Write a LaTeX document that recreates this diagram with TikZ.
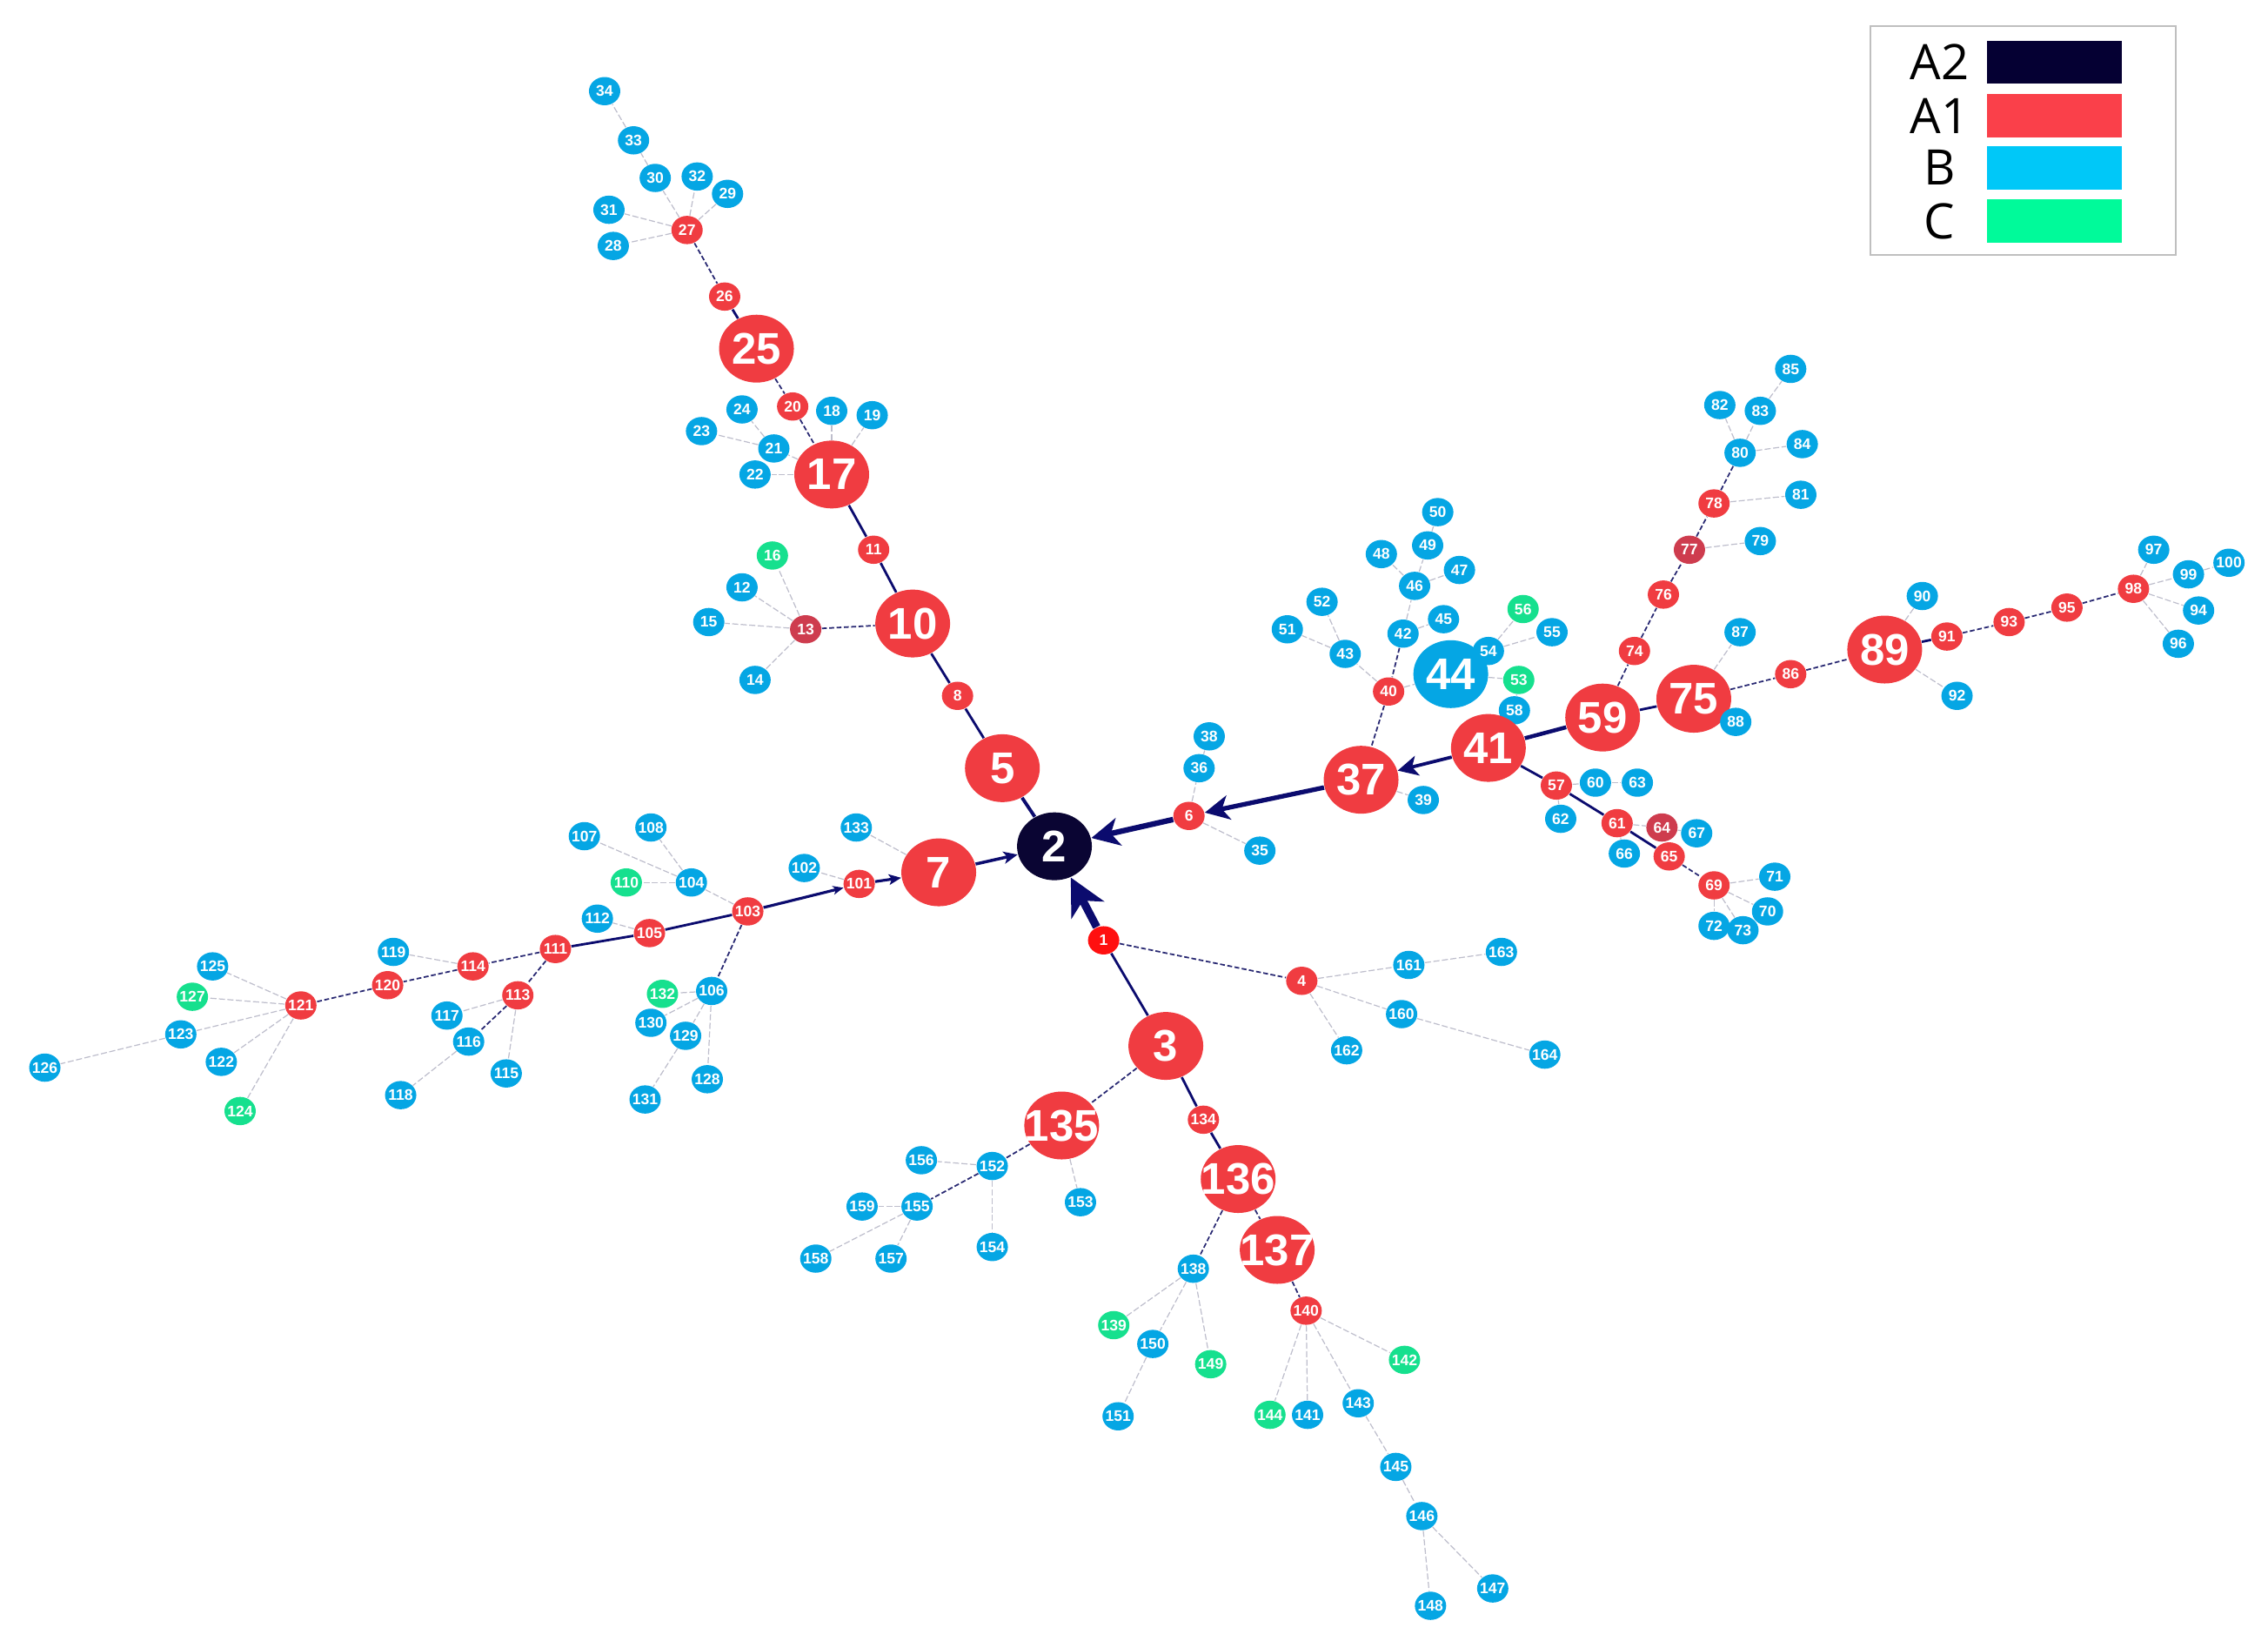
\documentclass[tikz,border=0pt]{standalone}
\usepackage{fontspec}
\setmainfont{Liberation Sans}
\newfontfamily\legfont{Open Sans}
\usetikzlibrary{shapes.geometric,arrows.meta}
\pgfdeclarelayer{bg}
\pgfsetlayers{bg,main}
\definecolor{cA2}{HTML}{0A0533}
\definecolor{cA1}{HTML}{F03C41}
\definecolor{cA1d}{HTML}{CE3C4E}
\definecolor{cA1b}{HTML}{FF1010}
\definecolor{cB}{HTML}{05A6E4}
\definecolor{cC}{HTML}{16E08E}
\definecolor{lA2}{HTML}{050033}
\definecolor{lA1}{HTML}{FA404A}
\definecolor{lB}{HTML}{00C8F8}
\definecolor{lC}{HTML}{00FA9A}
\definecolor{nav}{HTML}{0B0B6E}
\definecolor{edg}{HTML}{BEBECC}
\tikzset{
 base/.style={ellipse, inner sep=0pt, text=white},
 sm/.style={base, minimum width=3.6mm, minimum height=3.25mm, font=\fontsize{5}{5}\selectfont\bfseries},
 bg/.style={base, minimum width=8.6mm, minimum height=7.8mm, font=\fontsize{14.5}{14.5}\selectfont\bfseries},
 sr/.style={sm, fill=cA1},
 srd/.style={sm, fill=cA1d},
 srb/.style={sm, fill=cA1b},
 sb/.style={sm, fill=cB},
 sg/.style={sm, fill=cC},
 br/.style={bg, fill=cA1},
 bb/.style={bg, fill=cB},
 bn/.style={bg, fill=cA2},
 lt/.style={draw=edg, line width=0.35pt, dash pattern=on 2pt off 0.8pt},
 dk/.style={draw=nav!75!gray, line width=0.5pt, dash pattern=on 1.6pt off 0.8pt},
 thk/.style={draw=nav, line width=0.8pt},
 arr/.style={draw=nav},
}
\newcommand\nd[4]{\node[#1] (n#2) at (#3,#4) {\makebox[0pt]{#2}};}
\begin{document}
\begin{tikzpicture}[x=0.016626cm, y=-0.016626cm]
\useasboundingbox (0,0) rectangle (1568,1134);
% legend
\node[draw=black!25, line width=0.6pt, minimum width=35.1mm, minimum height=26.3mm, inner sep=0pt] (leg) at (1398.5,97) {};
\foreach \t/\c/\y in {A2/lA2/43, A1/lA1/80, B/lB/116, C/lC/153}{
  \node[fill=\c, minimum width=15.5mm, minimum height=5.0mm, inner sep=0pt] (sw\t) at (1420.5,\y) {};
  \node[font=\legfont\fontsize{16}{16}\selectfont, inner sep=0pt] (lb\t) at (1341,\y) {\t};
}
% top-left branch
\nd{sb}{34}{418}{63}
\nd{sb}{33}{438}{97}
\nd{sb}{30}{453}{123}
\nd{sb}{32}{482}{122}
\nd{sb}{29}{503}{134}
\nd{sb}{31}{421}{145}
\nd{sr}{27}{475}{159}
\nd{sb}{28}{424}{170}
\nd{sr}{26}{501}{205}
\nd{br}{25}{523}{241}
\nd{sr}{20}{548}{281}
\nd{sb}{24}{513}{283}
\nd{sb}{18}{575}{284}
\nd{sb}{19}{603}{287}
\nd{sb}{23}{485}{298}
\nd{sb}{21}{535}{310}
\nd{sb}{22}{522}{328}
\nd{br}{17}{575}{328}
\nd{sr}{11}{604}{380}
\nd{sg}{16}{534}{384}
\nd{sb}{12}{513}{406}
\nd{sb}{15}{490}{430}
\nd{srd}{13}{557}{435}
\nd{br}{10}{631}{431}
\nd{sb}{14}{522}{470}
\nd{sr}{8}{662}{481}
\nd{br}{5}{693}{531}
\nd{bn}{2}{729}{585}
\nd{br}{7}{649}{603}
% left branch
\nd{sb}{133}{592}{572}
\nd{sb}{102}{556}{600}
\nd{sr}{101}{594}{611}
\nd{sr}{103}{517}{630}
\nd{sb}{104}{478}{610}
\nd{sb}{108}{450}{572}
\nd{sb}{107}{404}{578}
\nd{sg}{110}{433}{610}
\nd{sb}{112}{413}{635}
\nd{sr}{105}{449}{645}
\nd{sr}{111}{384}{656}
\nd{sb}{119}{272}{658}
\nd{sr}{114}{327}{668}
\nd{sr}{120}{268}{681}
\nd{sr}{121}{208}{695}
\nd{sb}{125}{147}{668}
\nd{sg}{127}{133}{689}
\nd{sb}{123}{125}{715}
\nd{sb}{126}{31}{738}
\nd{sb}{122}{153}{734}
\nd{sg}{124}{166}{768}
\nd{sr}{113}{358}{688}
\nd{sb}{117}{309}{702}
\nd{sb}{116}{324}{720}
\nd{sb}{115}{350}{742}
\nd{sb}{118}{277}{757}
\nd{sb}{106}{492}{685}
\nd{sg}{132}{458}{687}
\nd{sb}{130}{450}{707}
\nd{sb}{129}{474}{716}
\nd{sb}{128}{489}{746}
\nd{sb}{131}{446}{760}
% right branch
\nd{sr}{6}{822}{564}
\nd{sb}{38}{836}{509}
\nd{sb}{36}{829}{531}
\nd{sb}{35}{871}{588}
\nd{br}{37}{941}{539}
\nd{sb}{39}{984}{553}
\nd{sr}{40}{960}{478}
\nd{sb}{43}{930}{452}
\nd{sb}{51}{890}{435}
\nd{sb}{52}{914}{416}
\nd{sb}{42}{970}{438}
\nd{sb}{46}{978}{405}
\nd{sb}{48}{955}{383}
\nd{sb}{49}{987}{377}
\nd{sb}{50}{994}{354}
\nd{sb}{47}{1009}{394}
\nd{sb}{45}{998}{428}
\nd{bb}{44}{1003}{466}
\nd{sb}{54}{1029}{450}
\nd{sg}{56}{1053}{421}
\nd{sb}{55}{1073}{437}
\nd{sg}{53}{1050}{470}
\nd{sb}{58}{1047}{491}
\nd{br}{41}{1029}{517}
\nd{sr}{57}{1076}{543}
\nd{sb}{60}{1103}{541}
\nd{sb}{63}{1132}{541}
\nd{sb}{62}{1079}{566}
\nd{sr}{61}{1118}{569}
\nd{srd}{64}{1149}{572}
\nd{sb}{67}{1173}{576}
\nd{sb}{66}{1123}{590}
\nd{sr}{65}{1154}{592}
\nd{sr}{69}{1185}{612}
\nd{sb}{71}{1227}{606}
\nd{sb}{70}{1222}{630}
\nd{sb}{72}{1185}{640}
\nd{sb}{73}{1205}{643}
\nd{br}{59}{1108}{496}
\nd{sr}{74}{1130}{450}
\nd{sr}{76}{1150}{411}
\nd{srd}{77}{1168}{380}
\nd{sb}{79}{1217}{374}
\nd{sr}{78}{1185}{348}
\nd{sb}{81}{1245}{342}
\nd{sb}{80}{1203}{313}
\nd{sb}{84}{1246}{307}
\nd{sb}{82}{1189}{280}
\nd{sb}{83}{1217}{284}
\nd{sb}{85}{1238}{255}
\nd{br}{75}{1171}{483}
\nd{sb}{87}{1203}{437}
\nd{sb}{88}{1200}{499}
\nd{sr}{86}{1238}{466}
\nd{br}{89}{1303}{449}
\nd{sb}{90}{1329}{412}
\nd{sb}{92}{1353}{481}
\nd{sr}{91}{1346}{440}
\nd{sr}{93}{1389}{430}
\nd{sr}{95}{1429}{420}
\nd{sr}{98}{1475}{407}
\nd{sb}{97}{1489}{380}
\nd{sb}{99}{1513}{397}
\nd{sb}{100}{1541}{389}
\nd{sb}{94}{1520}{422}
\nd{sb}{96}{1506}{445}
% bottom branch
\nd{srb}{1}{763}{650}
\nd{sr}{4}{900}{678}
\nd{sb}{161}{974}{667}
\nd{sb}{163}{1038}{658}
\nd{sb}{160}{969}{701}
\nd{sb}{164}{1068}{729}
\nd{sb}{162}{931}{726}
\nd{br}{3}{806}{723}
\nd{br}{135}{734}{778}
\nd{sr}{134}{832}{774}
\nd{br}{136}{856}{815}
\nd{br}{137}{883}{864}
\nd{sb}{152}{686}{806}
\nd{sb}{156}{637}{802}
\nd{sb}{153}{747}{831}
\nd{sb}{155}{634}{834}
\nd{sb}{159}{596}{834}
\nd{sb}{154}{686}{862}
\nd{sb}{158}{564}{870}
\nd{sb}{157}{616}{870}
\nd{sb}{138}{825}{877}
\nd{sg}{139}{770}{916}
\nd{sb}{150}{797}{929}
\nd{sb}{151}{773}{979}
\nd{sg}{149}{837}{943}
\nd{sr}{140}{903}{906}
\nd{sg}{142}{971}{940}
\nd{sg}{144}{878}{978}
\nd{sb}{141}{904}{978}
\nd{sb}{143}{939}{970}
\nd{sb}{145}{965}{1014}
\nd{sb}{146}{983}{1048}
\nd{sb}{148}{989}{1110}
\nd{sb}{147}{1032}{1098}
\begin{pgfonlayer}{bg}
\foreach \a/\b in {27/28,27/31,27/30,27/32,27/29,30/33,33/34,
 17/18,17/19,17/21,17/22,21/23,21/24,13/12,13/15,13/14,13/16,
 7/133,101/102,103/104,104/108,104/107,104/110,105/112,114/119,
 121/125,121/127,121/123,121/122,121/124,123/126,113/117,113/115,116/118,
 106/132,106/130,106/129,106/128,129/131,
 6/36,36/38,6/35,37/39,40/43,43/51,43/52,40/44,42/46,46/48,46/49,46/47,49/50,42/45,
 44/54,54/56,54/55,44/53,53/58,57/60,57/62,61/66,61/64,64/67,60/63,
 69/71,69/70,69/72,69/73,77/79,78/81,80/82,80/83,80/84,83/85,75/87,75/88,
 89/90,89/92,98/97,98/99,98/94,98/96,99/100,
 4/161,161/163,4/160,160/164,4/162,
 135/153,152/156,152/154,155/159,155/158,155/157,138/139,138/150,138/149,150/151,
 140/142,140/144,140/141,140/143,143/145,145/146,146/148,146/147}
 \draw[lt] (n\a) -- (n\b);
\foreach \a/\b in {27/26,25/20,20/17,13/10,40/37,42/40,59/74,74/76,76/77,77/78,78/80,
 75/86,86/89,91/93,93/95,95/98,65/69,1/4,3/135,136/137,137/140,136/138,135/152,152/155,
 111/114,114/120,120/121,111/113,113/116,103/106}
 \draw[dk] (n\a) -- (n\b);
\foreach \a/\b in {26/25,17/11,11/10,10/8,8/5,89/91,59/75,41/57,57/61,61/65,103/105,105/111,3/1,3/134,134/136}
 \draw[thk] (n\a) -- (n\b);
\draw[thk, line width=1.1pt] (n5) -- (n2);
\draw[thk, line width=1.3pt] (n59) -- (n41);
\draw[arr, line width=2.6pt, -{Stealth[length=4.2mm, width=4.2mm, inset=1.2mm]}] (n1) -- (n2);
\draw[arr, line width=1.8pt, -{Stealth[length=3.2mm, width=3.2mm, inset=0.9mm]}] (n6) -- (n2);
\draw[arr, line width=1.5pt, -{Stealth[length=2.8mm, width=2.8mm, inset=0.8mm]}] (n37) -- (n6);
\draw[arr, line width=1.1pt, -{Stealth[length=2.3mm, width=2.3mm, inset=0.6mm]}] (n41) -- (n37);
\draw[arr, line width=1.0pt, -{Stealth[length=1.6mm, width=1.4mm, inset=0.4mm]}] (n7) -- (n2);
\draw[arr, line width=0.9pt, -{Stealth[length=1.4mm, width=1.2mm, inset=0.3mm]}] (n101) -- (n7);
\draw[arr, line width=0.9pt, -{Stealth[length=1.2mm, width=1.0mm, inset=0.3mm]}] (n103) -- (n101);
\end{pgfonlayer}
\end{tikzpicture}
\end{document}
